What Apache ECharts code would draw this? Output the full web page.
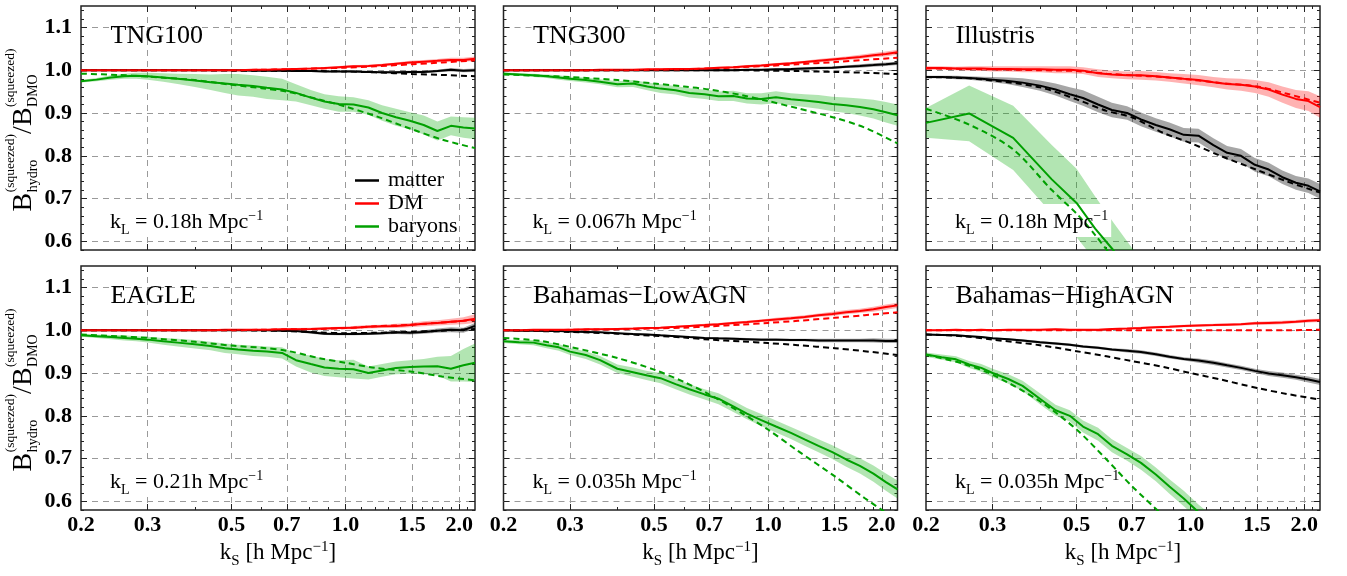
<!DOCTYPE html>
<html><head><meta charset="utf-8">
<script src="https://cdn.jsdelivr.net/npm/echarts@6/dist/echarts.min.js"></script>
<style>html,body{margin:0;padding:0;background:#fff}#c{width:1347px;height:576px}</style>
</head><body><div id="c"></div>
<script>
// ---------- data ----------
const K  = [0.20,0.22,0.24,0.26,0.28,0.30,0.33,0.36,0.40,0.44,0.48,0.52,0.57,0.62,0.68,0.74,0.81,0.88,0.96,1.05,1.15,1.25,1.36,1.48,1.61,1.75,1.90,2.05,2.20];
const KD = [0.20,0.25,0.30,0.40,0.50,0.60,0.70,0.85,1.00,1.20,1.50,1.80,2.20];
const KI = [0.20,0.26,0.34,0.43,0.50,0.56,0.625,0.70,0.80];

const panelNames = ['TNG100','TNG300','Illustris','EAGLE','Bahamas\u2212LowAGN','Bahamas\u2212HighAGN'];
const kLValues = ['0.18','0.067','0.18','0.21','0.035','0.035'];
const xTickLabels = [0.2,0.3,0.5,0.7,1.0,1.5,2.0];
const xMajorTicks = [0.3,0.5,0.7,1.0,1.5,2.0];
const xMinorTicks = [0.4,0.6,0.8,0.9,1.1,1.2,1.3,1.4,1.6,1.7,1.8,1.9,2.1];
const yTickLabels = [0.6,0.7,0.8,0.9,1.0,1.1];
const speciesNames = ['matter','DM','baryons'];

// TNG100
const tng100Matter    = [1.000,1.000,1.000,1.000,1.000,1.000,1.000,1.000,1.000,1.000,1.000,1.000,0.999,0.999,0.999,0.998,0.998,0.997,0.997,0.997,0.996,0.995,0.995,0.996,0.996,0.998,1.001,0.999,1.000];
const tng100MatterErr = [0.001,0.001,0.001,0.001,0.001,0.001,0.001,0.001,0.001,0.001,0.001,0.001,0.001,0.001,0.002,0.002,0.002,0.002,0.002,0.002,0.002,0.002,0.003,0.003,0.003,0.003,0.004,0.004,0.004];
const tng100MatterTh  = [1.000,1.000,1.000,1.000,0.999,0.999,0.998,0.998,0.997,0.995,0.991,0.989,0.986];
const tng100DM        = [1.000,1.000,1.000,1.000,1.000,1.000,1.000,1.000,1.000,1.000,1.000,1.000,1.001,1.001,1.002,1.003,1.004,1.005,1.007,1.009,1.010,1.012,1.015,1.018,1.020,1.022,1.024,1.024,1.027];
const tng100DMErr     = [0.001,0.001,0.001,0.001,0.001,0.001,0.001,0.001,0.001,0.001,0.001,0.001,0.002,0.002,0.002,0.002,0.002,0.002,0.003,0.003,0.003,0.003,0.003,0.004,0.004,0.004,0.005,0.005,0.005];
const tng100DMTh      = [1.000,1.000,1.000,1.000,1.000,1.001,1.002,1.004,1.006,1.009,1.014,1.018,1.023];
const tng100Bar       = [0.974,0.978,0.983,0.986,0.987,0.986,0.983,0.980,0.976,0.972,0.969,0.966,0.963,0.959,0.955,0.947,0.936,0.927,0.921,0.920,0.913,0.900,0.890,0.882,0.872,0.858,0.870,0.866,0.864];
const tng100BarErr    = [0.003,0.004,0.005,0.006,0.007,0.008,0.010,0.012,0.015,0.018,0.022,0.025,0.025,0.026,0.025,0.020,0.018,0.017,0.018,0.017,0.017,0.018,0.020,0.020,0.022,0.022,0.022,0.024,0.025];
const tng100BarTh     = [0.992,0.989,0.985,0.977,0.966,0.958,0.950,0.932,0.915,0.893,0.862,0.838,0.818];

// TNG300
const tng300Matter    = [1.000,1.000,1.000,1.000,1.000,1.000,1.000,1.000,1.000,1.000,1.000,1.000,1.000,1.000,1.000,1.000,1.000,1.001,1.001,1.002,1.003,1.004,1.005,1.006,1.008,1.010,1.012,1.014,1.016];
const tng300MatterErr = [0.001,0.001,0.001,0.001,0.001,0.001,0.001,0.001,0.001,0.001,0.001,0.001,0.001,0.001,0.002,0.002,0.002,0.002,0.002,0.002,0.002,0.003,0.003,0.003,0.003,0.004,0.004,0.004,0.004];
const tng300MatterTh  = [1.000,1.000,1.000,1.000,1.000,1.000,1.000,1.000,0.999,0.998,0.996,0.994,0.991];
const tng300DM        = [1.000,1.000,1.000,1.000,1.000,1.000,1.000,1.001,1.001,1.001,1.002,1.002,1.003,1.003,1.004,1.006,1.007,1.009,1.011,1.014,1.016,1.019,1.022,1.025,1.028,1.031,1.035,1.038,1.042];
const tng300DMErr     = [0.001,0.001,0.001,0.001,0.001,0.001,0.001,0.001,0.001,0.001,0.001,0.002,0.002,0.002,0.002,0.002,0.002,0.003,0.003,0.003,0.003,0.003,0.004,0.004,0.004,0.005,0.005,0.006,0.006];
const tng300DMTh      = [1.000,1.000,1.000,1.000,1.001,1.002,1.004,1.007,1.010,1.014,1.019,1.024,1.029];
const tng300Bar       = [0.992,0.990,0.988,0.986,0.983,0.980,0.977,0.973,0.967,0.969,0.962,0.957,0.953,0.947,0.944,0.939,0.940,0.934,0.933,0.937,0.932,0.929,0.926,0.921,0.918,0.914,0.909,0.902,0.895];
const tng300BarErr    = [0.003,0.003,0.004,0.004,0.005,0.005,0.006,0.006,0.007,0.008,0.009,0.010,0.010,0.011,0.011,0.011,0.012,0.012,0.013,0.014,0.014,0.015,0.016,0.017,0.018,0.020,0.022,0.024,0.025];
const tng300BarTh     = [0.990,0.987,0.984,0.977,0.969,0.962,0.955,0.942,0.928,0.911,0.889,0.866,0.829];

// Illustris
const illMatter       = [0.984,0.984,0.983,0.982,0.980,0.978,0.975,0.971,0.964,0.955,0.944,0.935,0.920,0.907,0.900,0.885,0.872,0.862,0.849,0.847,0.825,0.807,0.800,0.779,0.768,0.750,0.737,0.730,0.717];
const illMatterErr    = [0.003,0.003,0.004,0.004,0.005,0.006,0.008,0.010,0.012,0.014,0.016,0.018,0.018,0.017,0.016,0.016,0.016,0.016,0.016,0.016,0.016,0.016,0.016,0.016,0.016,0.016,0.016,0.017,0.017];
const illMatterTh     = [0.984,0.982,0.976,0.960,0.932,0.905,0.890,0.853,0.830,0.800,0.767,0.740,0.714];
const illDM           = [1.005,1.005,1.004,1.004,1.004,1.003,1.003,1.002,1.002,1.001,1.001,0.999,0.993,0.990,0.988,0.988,0.986,0.983,0.980,0.977,0.972,0.968,0.966,0.962,0.955,0.943,0.933,0.928,0.914];
const illDMErr        = [0.004,0.004,0.004,0.005,0.005,0.006,0.006,0.007,0.007,0.008,0.008,0.008,0.009,0.009,0.009,0.010,0.010,0.010,0.011,0.012,0.012,0.013,0.014,0.015,0.017,0.019,0.021,0.023,0.025];
const illDMTh         = [1.004,1.003,1.002,1.000,0.998,0.992,0.988,0.984,0.978,0.970,0.962,0.945,0.924];
const illBar          = [0.877,0.899,0.842,0.745,0.690,0.630,0.580,0.525,0.460];
const illBarErr       = [0.035,0.065,0.075,0.080,0.080,0.075,0.065,0.060,0.060];
const illBarTh        = [0.910,0.873,0.815,0.720,0.665,0.615,0.560,0.500,0.440];

// EAGLE
const eagMatter       = [1.000,1.000,1.000,1.000,1.000,1.000,1.000,1.000,1.000,1.000,1.000,1.000,1.000,1.000,0.999,0.998,0.995,0.992,0.991,0.991,0.992,0.993,0.995,0.994,0.996,0.999,1.001,1.000,1.010];
const eagMatterErr    = [0.001,0.001,0.001,0.001,0.001,0.001,0.001,0.001,0.001,0.001,0.001,0.001,0.002,0.002,0.002,0.002,0.003,0.003,0.003,0.003,0.003,0.003,0.004,0.004,0.004,0.005,0.006,0.006,0.007];
const eagMatterTh     = [1.000,1.000,1.000,1.000,1.000,0.999,0.998,0.995,0.993,0.994,0.996,0.999,1.003];
const eagDM           = [1.000,1.000,1.000,1.000,1.000,1.000,1.000,1.000,1.000,1.000,1.001,1.001,1.001,1.001,1.002,1.002,1.003,1.004,1.005,1.006,1.008,1.009,1.010,1.012,1.015,1.017,1.020,1.022,1.027];
const eagDMErr        = [0.001,0.001,0.001,0.001,0.001,0.001,0.001,0.001,0.001,0.001,0.002,0.002,0.002,0.002,0.002,0.003,0.003,0.003,0.003,0.004,0.004,0.004,0.005,0.005,0.006,0.006,0.007,0.008,0.010];
const eagDMTh         = [1.000,1.000,1.000,1.000,1.000,1.001,1.002,1.003,1.005,1.009,1.013,1.018,1.024];
const eagBar          = [0.988,0.986,0.984,0.982,0.980,0.978,0.974,0.971,0.967,0.963,0.958,0.955,0.952,0.950,0.947,0.930,0.921,0.913,0.910,0.909,0.900,0.906,0.912,0.914,0.915,0.916,0.910,0.918,0.924];
const eagBarErr       = [0.003,0.004,0.005,0.006,0.006,0.007,0.008,0.009,0.010,0.010,0.011,0.011,0.012,0.012,0.013,0.015,0.020,0.020,0.020,0.022,0.015,0.015,0.015,0.016,0.018,0.022,0.030,0.038,0.045];
const eagBarTh        = [0.990,0.986,0.982,0.973,0.964,0.959,0.952,0.935,0.924,0.912,0.903,0.892,0.883];

// Bahamas-LowAGN
const lowMatter       = [1.000,0.999,0.999,0.998,0.998,0.997,0.996,0.995,0.993,0.991,0.990,0.988,0.986,0.984,0.982,0.981,0.980,0.979,0.978,0.978,0.977,0.977,0.976,0.976,0.976,0.976,0.976,0.975,0.975];
const lowMatterErr    = [0.001,0.001,0.001,0.001,0.001,0.001,0.001,0.001,0.001,0.002,0.002,0.002,0.002,0.002,0.002,0.002,0.003,0.003,0.003,0.003,0.003,0.003,0.004,0.004,0.004,0.004,0.005,0.005,0.005];
const lowMatterTh     = [1.000,0.998,0.996,0.992,0.987,0.983,0.978,0.974,0.970,0.965,0.958,0.951,0.942];
const lowDM           = [1.000,1.000,1.001,1.001,1.001,1.001,1.002,1.002,1.003,1.004,1.005,1.006,1.008,1.010,1.012,1.014,1.017,1.019,1.022,1.025,1.028,1.031,1.035,1.038,1.042,1.045,1.049,1.054,1.058];
const lowDMErr        = [0.001,0.001,0.001,0.001,0.001,0.001,0.001,0.001,0.002,0.002,0.002,0.002,0.002,0.002,0.003,0.003,0.003,0.003,0.003,0.004,0.004,0.004,0.004,0.005,0.005,0.005,0.006,0.006,0.006];
const lowDMTh         = [1.000,1.000,1.001,1.002,1.004,1.006,1.009,1.013,1.017,1.022,1.029,1.035,1.042];
const lowBar          = [0.974,0.972,0.971,0.965,0.960,0.950,0.942,0.930,0.910,0.902,0.894,0.888,0.874,0.862,0.850,0.840,0.822,0.805,0.790,0.775,0.760,0.745,0.730,0.715,0.698,0.683,0.665,0.645,0.628];
const lowBarErr       = [0.004,0.005,0.006,0.007,0.008,0.008,0.009,0.010,0.010,0.011,0.011,0.012,0.012,0.012,0.012,0.013,0.013,0.013,0.014,0.014,0.014,0.015,0.015,0.016,0.017,0.018,0.019,0.020,0.021];
const lowBarTh        = [0.982,0.975,0.961,0.935,0.908,0.879,0.850,0.807,0.768,0.718,0.659,0.608,0.555];

// Bahamas-HighAGN
const highMatter      = [0.990,0.989,0.988,0.986,0.984,0.981,0.979,0.976,0.972,0.969,0.966,0.962,0.959,0.955,0.952,0.949,0.944,0.938,0.933,0.929,0.924,0.918,0.912,0.905,0.899,0.895,0.890,0.885,0.879];
const highMatterErr   = [0.002,0.002,0.002,0.002,0.002,0.002,0.002,0.003,0.003,0.003,0.003,0.003,0.003,0.003,0.004,0.004,0.004,0.004,0.004,0.005,0.005,0.005,0.005,0.005,0.006,0.006,0.006,0.007,0.007];
const highMatterTh    = [0.990,0.986,0.978,0.965,0.951,0.939,0.928,0.914,0.900,0.885,0.865,0.851,0.838];
const highDM          = [1.000,1.000,1.001,1.000,1.001,1.000,1.001,1.001,1.001,1.002,1.001,1.001,1.001,1.003,1.004,1.005,1.007,1.008,1.010,1.011,1.012,1.013,1.014,1.016,1.017,1.018,1.020,1.022,1.023];
const highDMErr       = [0.002,0.002,0.002,0.002,0.002,0.002,0.002,0.002,0.002,0.002,0.002,0.002,0.002,0.002,0.002,0.003,0.003,0.003,0.003,0.003,0.003,0.003,0.003,0.004,0.004,0.004,0.004,0.004,0.004];
const highDMTh        = [1.000,1.000,1.000,1.000,1.000,1.000,1.000,1.000,1.000,1.000,1.000,1.000,1.001];
const highBar         = [0.943,0.937,0.932,0.920,0.912,0.900,0.886,0.870,0.840,0.813,0.800,0.775,0.757,0.730,0.710,0.690,0.663,0.635,0.607,0.575,0.545,0.515,0.485,0.455,0.425,0.395,0.365,0.335,0.310];
const highBarErr      = [0.005,0.006,0.007,0.008,0.009,0.010,0.011,0.012,0.013,0.013,0.013,0.014,0.015,0.015,0.015,0.016,0.016,0.017,0.018,0.018,0.019,0.020,0.020,0.020,0.020,0.020,0.020,0.020,0.020];
const highBarTh       = [0.943,0.922,0.896,0.834,0.768,0.698,0.636,0.565,0.500,0.430,0.350,0.290,0.220];

// ---------- layout / style ----------
const FONT = 'Liberation Serif';
const COLORS = ['#000000', '#ff0000', '#00a000'];
const BANDS = ['rgba(0,0,0,0.35)', 'rgba(255,0,0,0.30)', 'rgba(0,170,0,0.30)'];
const GRID_W = 394, GRID_H = 244;
const LEFTS = [81, 503.5, 926];
const TOPS = [6, 266];

const panels = [
  {m:[K,tng100Matter,tng100MatterErr,KD,tng100MatterTh], d:[K,tng100DM,tng100DMErr,KD,tng100DMTh], b:[K,tng100Bar,tng100BarErr,KD,tng100BarTh]},
  {m:[K,tng300Matter,tng300MatterErr,KD,tng300MatterTh], d:[K,tng300DM,tng300DMErr,KD,tng300DMTh], b:[K,tng300Bar,tng300BarErr,KD,tng300BarTh]},
  {m:[K,illMatter,illMatterErr,KD,illMatterTh], d:[K,illDM,illDMErr,KD,illDMTh], b:[KI,illBar,illBarErr,KI,illBarTh]},
  {m:[K,eagMatter,eagMatterErr,KD,eagMatterTh], d:[K,eagDM,eagDMErr,KD,eagDMTh], b:[K,eagBar,eagBarErr,KD,eagBarTh]},
  {m:[K,lowMatter,lowMatterErr,KD,lowMatterTh], d:[K,lowDM,lowDMErr,KD,lowDMTh], b:[K,lowBar,lowBarErr,KD,lowBarTh]},
  {m:[K,highMatter,highMatterErr,KD,highMatterTh], d:[K,highDM,highDMErr,KD,highDMTh], b:[K,highBar,highBarErr,KD,highBarTh]}
];

const yMinorTicks = [];
for (let i = 0; i <= 28; i++) {
  const v = Math.round((0.58 + 0.02 * i) * 100) / 100;
  if (Math.abs(v * 10 - Math.round(v * 10)) > 1e-6) yMinorTicks.push(v);
}

const grids = [], xAxes = [], yAxes = [], series = [], graphics = [];
const tickStyle = {color: '#222', width: 1};

function bandSeries(ks, mid, err, color, ax) {
  const rows = ks.map((k, i) => [k, mid[i] - err[i], mid[i] + err[i]]);
  return Object.assign({
    type: 'custom', silent: true, z: 1,
    data: rows,
    encode: {x: 0, y: [1, 2]},
    renderItem: function (params, api) {
      if (params.dataIndex !== 0) return null;
      const pts = [];
      for (let i = 0; i < rows.length; i++) pts.push(api.coord([rows[i][0], rows[i][2]]));
      for (let i = rows.length - 1; i >= 0; i--) pts.push(api.coord([rows[i][0], rows[i][1]]));
      const cs = params.coordSys;
      return {type: 'polygon', shape: {points: pts}, style: {fill: color, stroke: null},
        clipPath: {type: 'rect', shape: {x: cs.x, y: cs.y, width: cs.width, height: cs.height}}};
    }
  }, ax);
}

for (let gi = 0; gi < 6; gi++) {
  const row = Math.floor(gi / 3), col = gi % 3;
  const left = LEFTS[col], top = TOPS[row];
  grids.push({left: left, top: top, width: GRID_W, height: GRID_H, show: true,
    borderColor: '#222', borderWidth: 1.5, backgroundColor: '#fff'});
  const xBase = {type: 'log', logBase: 10, min: 0.2, max: 2.2, gridIndex: gi,
    axisLine: {show: false}, splitLine: {show: false}, axisLabel: {show: false}};
  xAxes.push(Object.assign({}, xBase, {position: 'bottom',
    axisTick: {show: true, inside: true, length: 6, lineStyle: tickStyle, customValues: xMajorTicks},
    splitLine: {show: true, lineStyle: {color: '#9a9a9a', width: 1, type: [6, 5]}},
    axisLabel: {show: row === 1, customValues: xTickLabels, formatter: v => Number(v).toFixed(1),
      fontFamily: FONT, fontSize: 22, fontWeight: 'bold', color: '#000', margin: 4}}));
  xAxes.push(Object.assign({}, xBase, {position: 'bottom',
    axisTick: {show: true, inside: true, length: 3, lineStyle: tickStyle, customValues: xMinorTicks}}));
  xAxes.push(Object.assign({}, xBase, {position: 'top',
    axisTick: {show: true, inside: true, length: 6, lineStyle: tickStyle, customValues: xMajorTicks}}));
  xAxes.push(Object.assign({}, xBase, {position: 'top',
    axisTick: {show: true, inside: true, length: 3, lineStyle: tickStyle, customValues: xMinorTicks}}));

  const yBase = {type: 'value', min: 0.58, max: 1.15, gridIndex: gi,
    axisLine: {show: false}, splitLine: {show: false}, axisLabel: {show: false}};
  yAxes.push(Object.assign({}, yBase, {position: 'left',
    axisTick: {show: true, inside: true, length: 6, lineStyle: tickStyle, customValues: yTickLabels},
    splitLine: {show: true, lineStyle: {color: '#9a9a9a', width: 1, type: [6, 5]}},
    axisLabel: {show: col === 0, customValues: yTickLabels, formatter: v => Number(v).toFixed(1),
      fontFamily: FONT, fontSize: 22, fontWeight: 'bold', color: '#000', margin: 9}}));
  yAxes.push(Object.assign({}, yBase, {position: 'left',
    axisTick: {show: true, inside: true, length: 3, lineStyle: tickStyle, customValues: yMinorTicks}}));
  yAxes.push(Object.assign({}, yBase, {position: 'right',
    axisTick: {show: true, inside: true, length: 6, lineStyle: tickStyle, customValues: yTickLabels}}));
  yAxes.push(Object.assign({}, yBase, {position: 'right',
    axisTick: {show: true, inside: true, length: 3, lineStyle: tickStyle, customValues: yMinorTicks}}));

  const p = panels[gi];
  const specs = [p.m, p.d, p.b];
  const ax = {xAxisIndex: gi * 4, yAxisIndex: gi * 4};
  specs.forEach((s, si) => {
    const [ks, mid, err] = s;
    series.push(bandSeries(ks, mid, err, BANDS[si], ax));
  });
  specs.forEach((s, si) => {
    const [ks, mid, err, kt, th] = s;
    series.push(Object.assign({type: 'line', name: speciesNames[si], symbol: 'none', showSymbol: false,
      data: ks.map((k, i) => [k, mid[i]]), itemStyle: {color: COLORS[si]},
      lineStyle: {color: COLORS[si], width: 2}, z: 3}, ax));
    series.push(Object.assign({type: 'line', name: 'model-' + gi + '-' + si, symbol: 'none', showSymbol: false, smooth: 0.3,
      data: kt.map((k, i) => [k, th[i]]), itemStyle: {color: COLORS[si]},
      lineStyle: {color: COLORS[si], width: 2, type: [6, 4]}, z: 4}, ax));
  });
}

// ---------- text helpers ----------
const mctx = document.createElement('canvas').getContext('2d');
function meas(t, s) { mctx.font = s + 'px "' + FONT + '"'; return mctx.measureText(t).width; }
function mkText(t, s, x, b) {
  return {type: 'text', x: x, y: b - 0.34 * s, silent: true, z: 10,
    style: {text: t, font: s + 'px "' + FONT + '"', fill: '#000',
      textAlign: 'left', textVerticalAlign: 'middle', align: 'left', verticalAlign: 'middle'}};
}
function run(pieces) {
  let x = 0; const kids = [];
  for (let i = 0; i < pieces.length; i++) {
    const p = pieces[i];
    if (p.pair) {
      const q = pieces[i + 1];
      kids.push(mkText(p.t, p.s, x, p.b || 0));
      kids.push(mkText(q.t, q.s, x, q.b || 0));
      x += Math.max(meas(p.t, p.s), meas(q.t, q.s)) + (p.gap || 0);
      i++;
    } else {
      kids.push(mkText(p.t, p.s, x, p.b || 0));
      x += meas(p.t, p.s) + (p.gap || 0);
    }
  }
  return {kids: kids, w: x};
}

for (let gi = 0; gi < 6; gi++) {
  const row = Math.floor(gi / 3), col = gi % 3;
  const left = LEFTS[col], top = TOPS[row];
  graphics.push({type: 'text', x: left + 29.5, y: top + 30, silent: true, z: 10,
    style: {text: panelNames[gi], font: '26px "' + FONT + '"', fill: '#000',
      textAlign: 'left', textVerticalAlign: 'middle', align: 'left', verticalAlign: 'middle'}});
  const kl = run([{t: 'k', s: 22}, {t: 'L', s: 14, b: 5}, {t: ' = ' + kLValues[gi] + 'h Mpc', s: 22}, {t: '\u22121', s: 14, b: -9}]);
  const bg = {type: 'rect', silent: true, z: 2, shape: {x: -3, y: -26, width: kl.w + 6, height: 33}, style: {fill: '#fff'}};
  graphics.push({type: 'group', x: left + 29, y: top + 224, children: [bg].concat(kl.kids)});
  if (row === 1) {
    const xt = run([{t: 'k', s: 23}, {t: 'S', s: 15, b: 5}, {t: ' [h Mpc', s: 23}, {t: '\u22121', s: 15, b: -9}, {t: ']', s: 23}]);
    xt.kids.forEach(k => k.x -= xt.w / 2);
    graphics.push({type: 'group', x: left + GRID_W / 2, y: 561, children: xt.kids});
  }
  if (col === 0) {
    const yt = run([{t: 'B', s: 28, gap: 0.5}, {t: '(squeezed)', s: 13.5, b: -18, pair: true}, {t: 'hydro', s: 14, b: 5},
                    {t: '/B', s: 28, gap: 0.5}, {t: '(squeezed)', s: 13.5, b: -18, pair: true}, {t: 'DMO', s: 14, b: 5}]);
    yt.kids.forEach(k => k.x -= yt.w / 2);
    graphics.push({type: 'group', x: 33, y: top + 124, rotation: Math.PI / 2, children: yt.kids});
  }
}

const chart = echarts.init(document.getElementById('c'), null, {renderer: 'canvas'});
chart.setOption({
  animation: false,
  backgroundColor: '#fff',
  textStyle: {fontFamily: FONT},
  grid: grids,
  xAxis: xAxes,
  yAxis: yAxes,
  legend: {data: speciesNames, left: 355, top: 169, orient: 'vertical', padding: 0,
    icon: 'rect', itemWidth: 24, itemHeight: 2.5, itemGap: 0, selectedMode: false,
    textStyle: {fontFamily: FONT, fontSize: 22, color: '#000', lineHeight: 23, padding: [0, 0, 0, 4]}},
  graphic: {elements: graphics},
  series: series
});
</script></body></html>
